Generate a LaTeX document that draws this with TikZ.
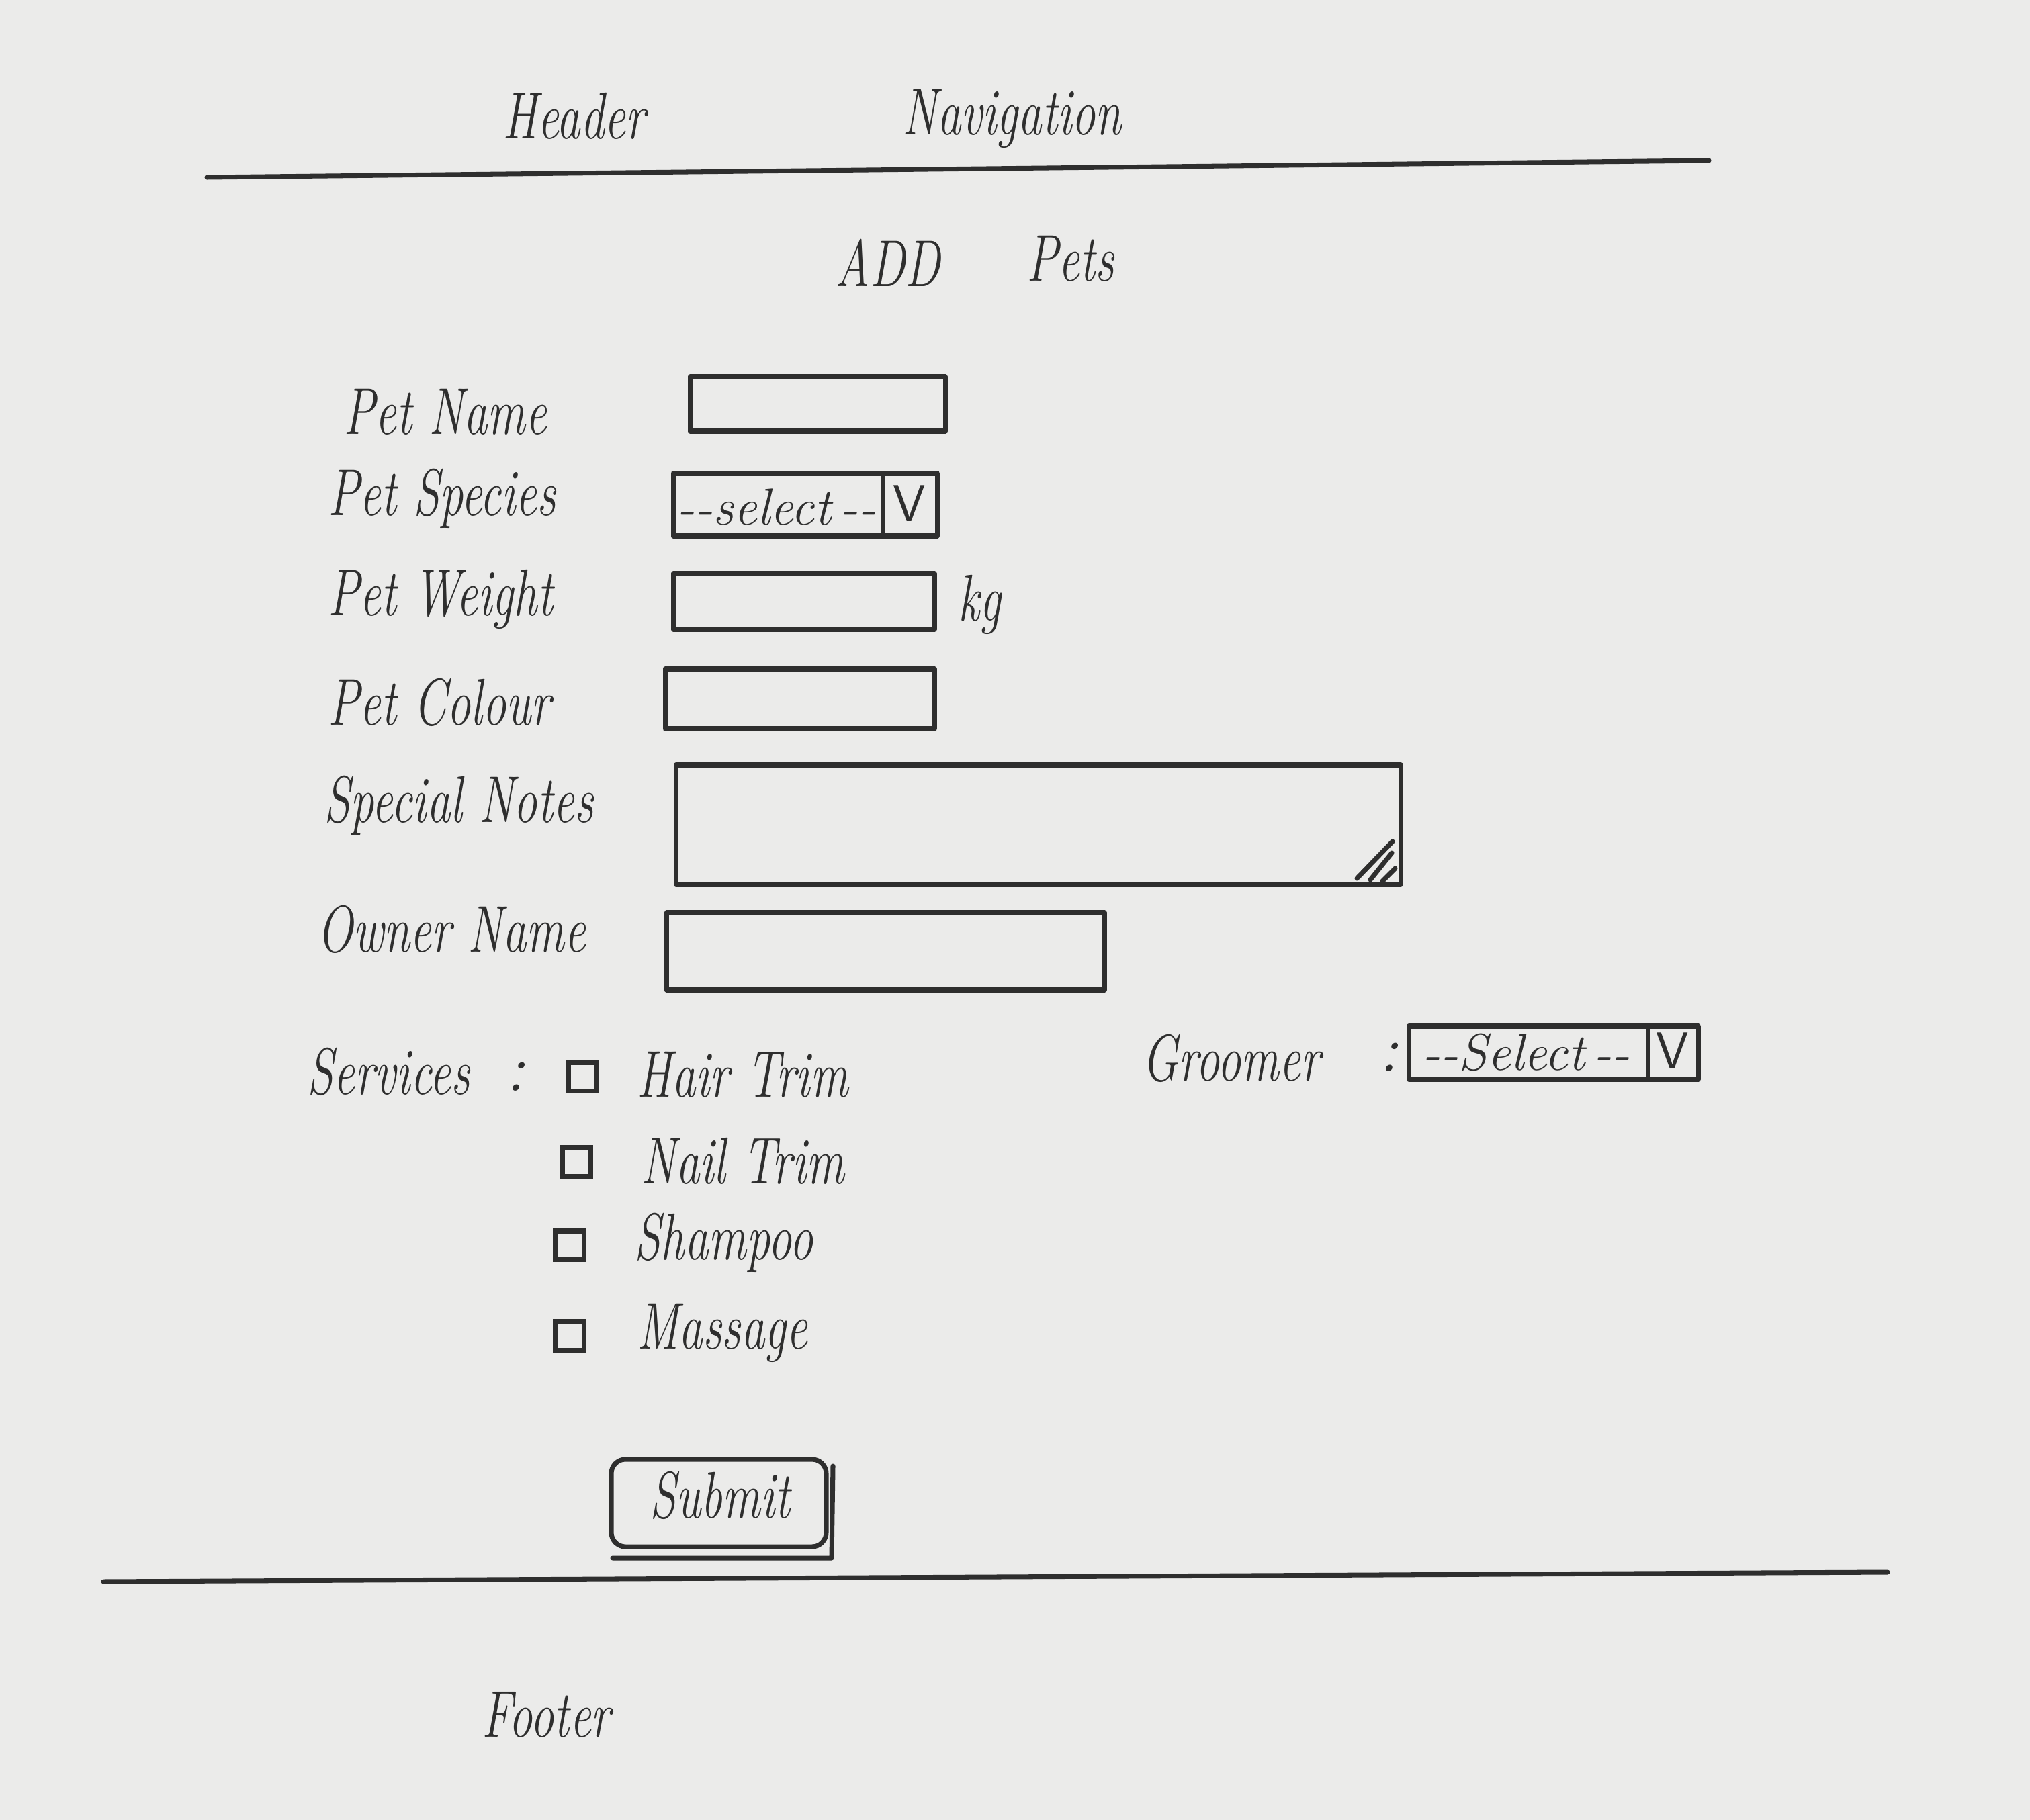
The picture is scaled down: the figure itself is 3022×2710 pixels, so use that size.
\documentclass[tikz,border=0pt]{standalone}
\usepackage{graphicx}
\definecolor{paper}{HTML}{EBEBEA}
\definecolor{ink}{HTML}{2E2E2E}
\newcommand{\hw}[1]{\scalebox{0.72}[1]{#1}}
\begin{document}
\begin{tikzpicture}[x=0.01cm,y=-0.01cm,
  lbl/.style={anchor=west,inner sep=0pt,text=ink,font=\fontsize{28}{32}\selectfont\itshape},
  sel/.style={inner sep=0pt,text=ink,font=\fontsize{22}{26}\selectfont\itshape},
  vmark/.style={inner sep=0pt,text=ink,font=\fontsize{22}{26}\selectfont\sffamily},
  pen/.style={draw=ink,line width=2pt,line cap=round,line join=round},
  chk/.style={draw=ink,line width=2pt,minimum width=0.42cm,minimum height=0.42cm,inner sep=0pt}]
\fill[paper] (0,0) rectangle (3022,2710);
\useasboundingbox (0,0) rectangle (3022,2710);

% header
\node[lbl] (header) at (748,173) {\hw{Header}};
\node[lbl] (nav) at (1343,177) {\hw{Navigation}};
\draw[pen] (308,264) -- (2544,239);

% title
\node[lbl] (add) at (1243,391) {\hw{ADD}};
\node[lbl] (pets) at (1528,385) {\hw{Pets}};

% Pet Name
\node[lbl] (lname) at (511,613) {\hw{Pet Name}};
\draw[pen] (1027,561) rectangle (1407,642);

% Pet Species
\node[lbl] (lspecies) at (488,742) {\hw{Pet Species}};
\draw[pen] (1002,705) rectangle (1395,798);
\draw[pen] (1314,705) -- (1314,798);
\node[sel] (ssel) at (1156,755) {{-}{-}select\,{-}{-}};
\node[vmark] (sv) at (1354,750) {V};

% Pet Weight
\node[lbl] (lweight) at (488,892) {\hw{Pet Weight}};
\draw[pen] (1002,854) rectangle (1391,937);
\node[lbl] (kg) at (1426,900) {\hw{kg}};

% Pet Colour
\node[lbl] (lcolour) at (488,1046) {\hw{Pet Colour}};
\draw[pen] (990,996) rectangle (1391,1085);

% Special Notes
\node[lbl] (lnotes) at (482,1199) {\hw{Special Notes}};
\draw[pen] (1006,1139) rectangle (2085,1317);
\draw[pen] (2020,1308) -- (2073,1253);
\draw[pen] (2040,1310) -- (2072,1270);
\draw[pen] (2058,1312) -- (2077,1293);

% Owner Name
\node[lbl] (lowner) at (472,1384) {\hw{Owner Name}};
\draw[pen] (992,1359) rectangle (1644,1474);

% Services
\node[lbl] (lserv) at (457,1596) {\hw{Services}};
\node[lbl] (scolon) at (752,1603) {:};
\node[chk] (c1) at (867,1603) {};
\node[chk] (c2) at (858,1730) {};
\node[chk] (c3) at (848,1854) {};
\node[chk] (c4) at (848,1989) {};
\node[lbl] (s1) at (948,1600) {\hw{Hair Trim}};
\node[lbl] (s2) at (954,1729) {\hw{Nail Trim}};
\node[lbl] (s3) at (944,1850) {\hw{Shampoo}};
\node[lbl] (s4) at (948,1985) {\hw{Massage}};

% Groomer
\node[lbl] (lgroom) at (1700,1576) {\hw{Groomer}};
\node[lbl] (gcolon) at (2052,1574) {:};
\draw[pen] (2097,1528) rectangle (2528,1607);
\draw[pen] (2453,1528) -- (2453,1607);
\node[sel] (gsel) at (2272,1567) {{-}{-}Select\,{-}{-}};
\node[vmark] (gv) at (2490,1565) {V};

% Submit
\draw[pen,rounded corners=6pt] (910,2173) rectangle (1230,2303);
\draw[pen] (912,2320) -- (1238,2320) -- (1240,2183);
\node[inner sep=0pt,text=ink,font=\fontsize{28}{32}\selectfont\itshape] (submit) at (1072,2227) {\hw{Submit}};

% footer
\draw[pen] (154,2355) -- (2810,2341);
\node[lbl] (footer) at (717,2553) {\hw{Footer}};
\end{tikzpicture}
\end{document}
